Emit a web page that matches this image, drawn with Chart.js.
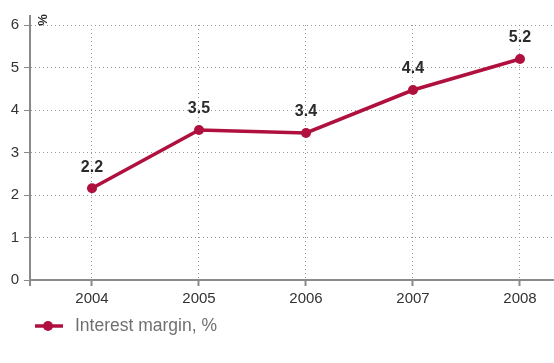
<!DOCTYPE html>
<html><head><meta charset="utf-8">
<script src="https://cdn.jsdelivr.net/npm/chart.js@4/dist/chart.umd.min.js"></script>
<style>html,body{margin:0;padding:0;background:#fff}#wrap{width:554px;height:363px;position:relative}</style>
</head><body><div id="wrap"><canvas id="c" width="554" height="363"></canvas></div>
<script>
const years = [2004, 2005, 2006, 2007, 2008];
const margin = [2.16, 3.53, 3.46, 4.47, 5.2];
const valueLabels = ["2.2", "3.5", "3.4", "4.4", "5.2"];
const seriesName = "Interest margin, %";
const yUnit = "%";
const RED = '#b0103e';
const AXIS = '#8a8a8a';
const FONT = '"Liberation Sans", Arial, sans-serif';

const extras = {
  id: 'extras',
  beforeDatasetsDraw(chart) {
    const ctx = chart.ctx, a = chart.chartArea;
    ctx.save();
    ctx.strokeStyle = AXIS; ctx.lineWidth = 2; ctx.setLineDash([]);
    ctx.beginPath(); ctx.moveTo(a.left, a.top - 10); ctx.lineTo(a.left, a.bottom + 6); ctx.stroke();
    ctx.beginPath(); ctx.moveTo(a.left, a.bottom); ctx.lineTo(a.right, a.bottom); ctx.stroke();
    ctx.restore();
  },
  afterDraw(chart) {
    const ctx = chart.ctx, a = chart.chartArea;
    const meta = chart.getDatasetMeta(0);
    ctx.save();
    ctx.fillStyle = '#2b2b2b';
    ctx.font = 'bold 16px ' + FONT;
    ctx.textAlign = 'center'; ctx.textBaseline = 'middle';
    meta.data.forEach((p, i) => ctx.fillText(valueLabels[i], p.x, p.y - 21));
    ctx.save();
    ctx.translate(a.left + 13, a.top - 5);
    ctx.rotate(-Math.PI / 2);
    ctx.font = 'bold 13px ' + FONT;
    ctx.fillText(yUnit, 0, 0);
    ctx.restore();
    const ly = 326;
    ctx.strokeStyle = RED; ctx.lineWidth = 3.5;
    ctx.beginPath(); ctx.moveTo(35, ly); ctx.lineTo(63, ly); ctx.stroke();
    ctx.fillStyle = RED; ctx.beginPath(); ctx.arc(48, ly, 5, 0, Math.PI * 2); ctx.fill();
    ctx.fillStyle = '#707070'; ctx.font = '17.5px ' + FONT;
    ctx.textAlign = 'left';
    ctx.fillText(seriesName, 75, ly);
    ctx.restore();
  }
};

new Chart(document.getElementById('c'), {
  type: 'line',
  data: {
    datasets: [{
      label: seriesName,
      data: years.map((y, i) => ({ x: y, y: margin[i] })),
      borderColor: RED, backgroundColor: RED,
      borderWidth: 3.5, pointRadius: 5, pointHoverRadius: 5,
      pointBackgroundColor: RED, pointBorderWidth: 0, tension: 0
    }]
  },
  options: {
    responsive: false, animation: false,
    layout: { autoPadding: false, padding: { top: 25, right: 0, bottom: 0, left: 0 } },
    plugins: { legend: { display: false }, tooltip: { enabled: false } },
    scales: {
      x: {
        type: 'linear', min: 2003.4206, max: 2008.3178,
        afterFit(s) { s.height = 83; s.paddingLeft = 0; s.paddingRight = 0; },
        afterBuildTicks(s) { s.ticks = years.map(v => ({ value: v })); },
        ticks: { stepSize: 1, color: '#333', padding: 4, font: { size: 15, family: FONT }, callback: v => String(v), maxRotation: 0 },
        grid: { color: '#999', lineWidth: 1, tickBorderDash: [], tickColor: AXIS, tickLength: 6, tickWidth: 2 },
        border: { color: AXIS, width: 2, dash: [1, 3] }
      },
      y: {
        min: 0, max: 6,
        afterFit(s) { s.width = 30; s.paddingTop = 0; s.paddingBottom = 0; },
        ticks: { stepSize: 1, color: '#333', padding: 5, font: { size: 15, family: FONT } },
        grid: { color: '#999', lineWidth: 1, tickBorderDash: [], tickColor: AXIS, tickLength: 6, tickWidth: 1 },
        border: { color: AXIS, width: 2, dash: [1, 3] }
      }
    }
  },
  plugins: [extras]
});
</script></body></html>
